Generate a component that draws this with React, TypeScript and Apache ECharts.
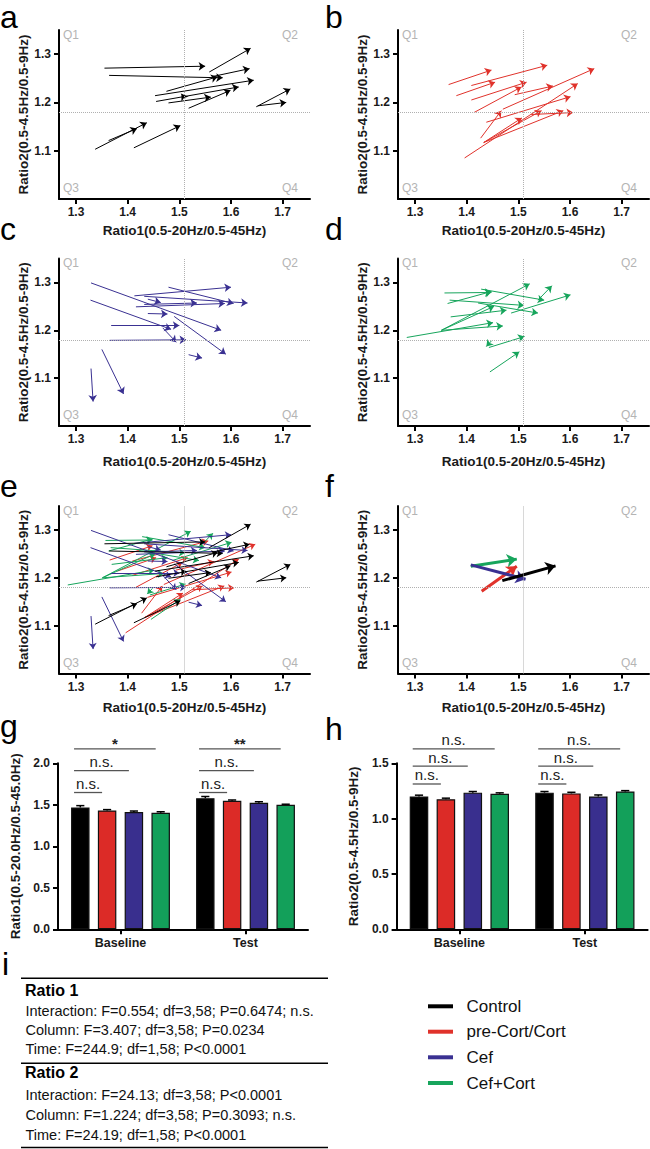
import React, { useEffect, useRef } from "react";
import * as echarts from "echarts";

const FONT = "'Liberation Sans', Arial, Helvetica, sans-serif";

// ---------------- data ----------------
const groupNames = ["Control", "pre-Cort/Cort", "Cef", "Cef+Cort"];
const arrowColors = ["#000000", "#e0322b", "#3a3192", "#17a55c"];
const barColors = ["#000000", "#dc2b27", "#392f8e", "#13a05a"];

// arrows: [ratio1 start, ratio2 start, ratio1 end, ratio2 end]
const arrowsControl = [
  [1.355, 1.271, 1.55, 1.275],
  [1.364, 1.256, 1.584, 1.251],
  [1.558, 1.263, 1.638, 1.312],
  [1.475, 1.223, 1.574, 1.253],
  [1.566, 1.254, 1.636, 1.27],
  [1.453, 1.214, 1.644, 1.246],
  [1.455, 1.202, 1.615, 1.232],
  [1.518, 1.188, 1.599, 1.225],
  [1.479, 1.199, 1.561, 1.211],
  [1.511, 1.207, 1.504, 1.218],
  [1.649, 1.191, 1.715, 1.228],
  [1.652, 1.193, 1.707, 1.2],
  [1.337, 1.103, 1.437, 1.158],
  [1.363, 1.121, 1.418, 1.146],
  [1.412, 1.106, 1.502, 1.152],
];
const arrowsPreCort = [
  [1.365, 1.237, 1.448, 1.267],
  [1.409, 1.235, 1.556, 1.277],
  [1.38, 1.214, 1.455, 1.242],
  [1.409, 1.205, 1.516, 1.242],
  [1.414, 1.179, 1.506, 1.232],
  [1.493, 1.216, 1.567, 1.234],
  [1.47, 1.186, 1.647, 1.27],
  [1.438, 1.159, 1.601, 1.212],
  [1.427, 1.126, 1.467, 1.183],
  [1.396, 1.085, 1.615, 1.239],
  [1.433, 1.117, 1.507, 1.168],
  [1.433, 1.117, 1.545, 1.183],
  [1.433, 1.117, 1.587, 1.183],
  [1.525, 1.175, 1.606, 1.179],
];
const arrowsCef = [
  [1.329, 1.299, 1.581, 1.2],
  [1.328, 1.263, 1.484, 1.202],
  [1.413, 1.272, 1.6, 1.29],
  [1.479, 1.29, 1.605, 1.256],
  [1.432, 1.271, 1.632, 1.257],
  [1.439, 1.265, 1.464, 1.258],
  [1.416, 1.249, 1.588, 1.256],
  [1.432, 1.254, 1.534, 1.257],
  [1.439, 1.235, 1.477, 1.234],
  [1.368, 1.21, 1.5, 1.21],
  [1.365, 1.179, 1.513, 1.18],
  [1.468, 1.205, 1.494, 1.175],
  [1.49, 1.229, 1.59, 1.15],
  [1.518, 1.149, 1.544, 1.142],
  [1.35, 1.16, 1.392, 1.067],
  [1.329, 1.12, 1.333, 1.051],
];
const arrowsCefCort = [
  [1.357, 1.278, 1.448, 1.279],
  [1.363, 1.256, 1.448, 1.281],
  [1.428, 1.286, 1.55, 1.263],
  [1.367, 1.263, 1.511, 1.252],
  [1.422, 1.257, 1.538, 1.236],
  [1.369, 1.228, 1.477, 1.242],
  [1.351, 1.2, 1.522, 1.297],
  [1.351, 1.2, 1.453, 1.25],
  [1.284, 1.185, 1.451, 1.216],
  [1.351, 1.2, 1.47, 1.209],
  [1.486, 1.236, 1.601, 1.274],
  [1.538, 1.263, 1.565, 1.293],
  [1.448, 1.178, 1.438, 1.166],
  [1.443, 1.164, 1.512, 1.187],
  [1.445, 1.113, 1.502, 1.155],
];
// group mean arrows (panel f), order: Control, pre-Cort/Cort, Cef, Cef+Cort
const meanArrows = [
  [1.469, 1.194, 1.572, 1.225],
  [1.429, 1.172, 1.497, 1.224],
  [1.408, 1.227, 1.514, 1.197],
  [1.408, 1.224, 1.497, 1.239],
];

const ratio1Ticks = [1.3, 1.4, 1.5, 1.6, 1.7];
const ratio2Ticks = [1.1, 1.2, 1.3];
const quadrantX = 1.509;
const quadrantY = 1.175;
const quadrantLabels = ["Q1", "Q2", "Q3", "Q4"];

const phases = ["Baseline", "Test"];
// [group][phase]
const ratio1Mean = [
  [1.468, 1.58],
  [1.432, 1.548],
  [1.413, 1.524],
  [1.404, 1.5],
];
const ratio1Err = [
  [0.022, 0.02],
  [0.01, 0.01],
  [0.012, 0.013],
  [0.012, 0.007],
];
const ratio2Mean = [
  [1.2, 1.235],
  [1.175, 1.228],
  [1.235, 1.2],
  [1.225, 1.245],
];
const ratio2Err = [
  [0.012, 0.01],
  [0.01, 0.01],
  [0.01, 0.014],
  [0.008, 0.008],
];
const ratio1BarTicks = { max: 2.0, interval: 0.5 };
const ratio2BarTicks = { max: 1.5, interval: 0.5 };
// significance: [phase, compared group, bracket height, label]
const ratio1Sig: [number, number, number, string][] = [
  [0, 3, 2.175, "*"],
  [0, 2, 1.911, "n.s."],
  [0, 1, 1.648, "n.s."],
  [1, 3, 2.175, "**"],
  [1, 2, 1.911, "n.s."],
  [1, 1, 1.648, "n.s."],
];
const ratio2Sig: [number, number, number, string][] = [
  [0, 3, 1.63, "n.s."],
  [0, 2, 1.475, "n.s."],
  [0, 1, 1.313, "n.s."],
  [1, 3, 1.63, "n.s."],
  [1, 2, 1.475, "n.s."],
  [1, 1, 1.313, "n.s."],
];

const statsTitles = ["Ratio 1", "Ratio 2"];
const statsRows = [
  [
    "Interaction: F=0.554; df=3,58; P=0.6474; n.s.",
    "Column: F=3.407; df=3,58; P=0.0234",
    "Time: F=244.9; df=1,58; P<0.0001",
  ],
  [
    "Interaction: F=24.13; df=3,58; P<0.0001",
    "Column: F=1.224; df=3,58; P=0.3093; n.s.",
    "Time: F=24.19; df=1,58; P<0.0001",
  ],
];

// ---------------- layout ----------------
const SC_W = 251;
const LETTER_SIZE = 32;
const scatterPanels = [
  { letter: "a", left: 59, top: 30, height: 169, nameGap: 24, letterX: 0, letterY: 16.5 },
  { letter: "b", left: 398, top: 30, height: 169, nameGap: 24, letterX: 325, letterY: 16.5 },
  { letter: "c", left: 59, top: 258.5, height: 167.5, nameGap: 28, letterX: 0, letterY: 229 },
  { letter: "d", left: 398, top: 258.5, height: 167.5, nameGap: 28, letterX: 325, letterY: 229 },
  { letter: "e", left: 59, top: 506, height: 167.5, nameGap: 27, letterX: 0, letterY: 486 },
  { letter: "f", left: 398, top: 506, height: 167.5, nameGap: 27, letterX: 325, letterY: 486 },
];
const barPanels = [
  { letter: "g", left: 58, top: 763.3, width: 250, height: 166, letterX: 0, letterY: 726 },
  { letter: "h", left: 396.6, top: 763.3, width: 251, height: 166, letterX: 325, letterY: 729 },
];
const BAR_CAT_GAP = 0.209;
const BAR_GAP = 0.45;
const BAR_W = (1 - BAR_CAT_GAP) / (4 + 3 * BAR_GAP);
const BAR_OFFSETS = [0, 1, 2, 3].map(
  (i) => -(1 - BAR_CAT_GAP) / 2 + BAR_W / 2 + i * BAR_W * (1 + BAR_GAP)
);

function txt(text: string, x: number, y: number, opts: any = {}) {
  const align = opts.align || "left";
  return {
    type: "text",
    x,
    y,
    silent: true,
    z: 10,
    style: {
      text,
      fill: opts.fill || "#111",
      fontSize: opts.fontSize || 14,
      fontWeight: opts.fontWeight || "normal",
      fontFamily: FONT,
      align,
      verticalAlign: "middle",
      textAlign: align,
      textVerticalAlign: "middle",
    },
  };
}

function buildOption() {
  const grid: any[] = [];
  const xAxis: any[] = [];
  const yAxis: any[] = [];
  const series: any[] = [];
  const graphic: any[] = [];
  const axisText = { color: "#1a1a1a", fontWeight: "bold", fontFamily: FONT };
  const axisLine = { show: true, onZero: false, lineStyle: { color: "#000", width: 2 } };
  const tickStyle = { color: "#000", width: 2 };
  const groupArrows = [arrowsControl, arrowsPreCort, arrowsCef, arrowsCefCort];

  const arrowSeries = (arr: number[][], color: string, gi: number, width: number, size: number, name: string) => ({
    type: "lines",
    name,
    coordinateSystem: "cartesian2d",
    xAxisIndex: gi,
    yAxisIndex: gi,
    silent: true,
    z: 4,
    symbol: ["none", "arrow"],
    symbolSize: size,
    lineStyle: { color, width, opacity: 1, curveness: 0 },
    data: arr.map((d) => ({ coords: [[d[0], d[1]], [d[2], d[3]]] })),
  });

  scatterPanels.forEach((p, gi) => {
    grid.push({ left: p.left, top: p.top, width: SC_W, height: p.height, containLabel: false, outerBoundsMode: "none" });
    xAxis.push({
      gridIndex: gi,
      type: "value",
      min: 1.267,
      max: 1.753,
      name: "Ratio1(0.5-20Hz/0.5-45Hz)",
      nameLocation: "middle",
      nameGap: p.nameGap,
      nameTextStyle: { ...axisText, fontSize: 13.5 },
      axisLine,
      axisTick: { show: true, customValues: ratio1Ticks, length: 5, lineStyle: tickStyle },
      axisLabel: { customValues: ratio1Ticks, formatter: (v: number) => v.toFixed(1), ...axisText, fontSize: 12, margin: 7 },
      splitLine: { show: false },
    });
    yAxis.push({
      gridIndex: gi,
      type: "value",
      min: 1.0,
      max: 1.35,
      name: "Ratio2(0.5-4.5Hz/0.5-9Hz)",
      nameLocation: "middle",
      nameGap: 23,
      nameRotate: 90,
      nameTextStyle: { ...axisText, fontSize: 13.5 },
      axisLine,
      axisTick: { show: true, customValues: ratio2Ticks, length: 5, lineStyle: tickStyle },
      axisLabel: { customValues: ratio2Ticks, formatter: (v: number) => v.toFixed(1), ...axisText, fontSize: 12, margin: 8 },
      splitLine: { show: false },
    });
    series.push({
      type: "line",
      xAxisIndex: gi,
      yAxisIndex: gi,
      data: [],
      silent: true,
      markLine: {
        silent: true,
        symbol: ["none", "none"],
        label: { show: false },
        lineStyle: { type: "dotted", color: "#b0b0b0", width: 1 },
        data: [{ xAxis: quadrantX }, { yAxis: quadrantY }],
      },
    });
    if (gi < 4) {
      series.push(arrowSeries(groupArrows[gi], arrowColors[gi], gi, 1, 6.5, groupNames[gi]));
    } else if (gi === 4) {
      [1, 3, 2, 0].forEach((k) => series.push(arrowSeries(groupArrows[k], arrowColors[k], gi, 1, 6, groupNames[k])));
    } else {
      [1, 3, 2, 0].forEach((k) => series.push(arrowSeries([meanArrows[k]], arrowColors[k], gi, 3, 10, groupNames[k])));
    }
    const right = p.left + SC_W - 12;
    const qTop = p.top + 4.5;
    const qBot = p.top + p.height - 11;
    const qs = { fill: "#b4b4b4", fontSize: 12 };
    graphic.push(txt(quadrantLabels[0], p.left + 4, qTop, qs));
    graphic.push(txt(quadrantLabels[1], right, qTop, { ...qs, align: "right" }));
    graphic.push(txt(quadrantLabels[2], p.left + 4, qBot, qs));
    graphic.push(txt(quadrantLabels[3], right, qBot, { ...qs, align: "right" }));
    graphic.push(txt(p.letter, p.letterX, p.letterY, { fontSize: LETTER_SIZE, fill: "#000" }));
  });

  const barSets = [
    { mean: ratio1Mean, err: ratio1Err, ticks: ratio1BarTicks, sig: ratio1Sig, name: "Ratio1(0.5-20.0Hz/0.5-45.0Hz)" },
    { mean: ratio2Mean, err: ratio2Err, ticks: ratio2BarTicks, sig: ratio2Sig, name: "Ratio2(0.5-4.5Hz/0.5-9Hz)" },
  ];
  barPanels.forEach((p, bi) => {
    const gi = 6 + bi;
    const set = barSets[bi];
    grid.push({ left: p.left, top: p.top, width: p.width, height: p.height, containLabel: false, outerBoundsMode: "none" });
    xAxis.push({
      gridIndex: gi,
      type: "category",
      data: phases,
      axisLine,
      axisTick: { show: true, alignWithLabel: true, length: 5, lineStyle: tickStyle },
      axisLabel: { ...axisText, fontSize: 12.5, margin: 7 },
      splitLine: { show: false },
    });
    yAxis.push({
      gridIndex: gi,
      type: "value",
      min: 0,
      max: set.ticks.max,
      interval: set.ticks.interval,
      name: set.name,
      nameLocation: "middle",
      nameGap: 36,
      nameRotate: 90,
      nameTextStyle: { ...axisText, fontSize: 13.5 },
      axisLine,
      axisTick: { show: true, length: 5, lineStyle: tickStyle },
      axisLabel: { formatter: (v: number) => v.toFixed(1), ...axisText, fontSize: 12, margin: 8 },
      splitLine: { show: false },
    });
    set.mean.forEach((vals, k) => {
      series.push({
        type: "bar",
        name: groupNames[k],
        xAxisIndex: gi,
        yAxisIndex: gi,
        data: vals,
        barGap: Math.round(BAR_GAP * 100) + "%",
        barCategoryGap: (BAR_CAT_GAP * 100).toFixed(1) + "%",
        itemStyle: { color: barColors[k], borderColor: "#111", borderWidth: 1.2 },
        silent: true,
        z: 2,
      });
    });
    const errData: number[][] = [];
    set.mean.forEach((vals, k) => vals.forEach((v, c) => errData.push([c, v, set.err[k][c], k])));
    series.push({
      type: "custom",
      xAxisIndex: gi,
      yAxisIndex: gi,
      clip: false,
      silent: true,
      z: 5,
      data: errData,
      renderItem: (params: any, api: any) => {
        const c = api.value(0);
        const m = api.value(1);
        const e = api.value(2);
        const k = api.value(3);
        const catW = api.size([1, 0])[0];
        const cx = api.coord([c, 0])[0] + BAR_OFFSETS[k] * catW;
        const yb = api.coord([c, m])[1];
        const yt = api.coord([c, m + e])[1];
        const cap = BAR_W * catW * 0.22;
        const st = { stroke: "#000", lineWidth: 1.5 };
        return {
          type: "group",
          children: [
            { type: "line", shape: { x1: cx, y1: yb, x2: cx, y2: yt }, style: st },
            { type: "line", shape: { x1: cx - cap, y1: yt, x2: cx + cap, y2: yt }, style: st },
          ],
        };
      },
    });
    const sig = set.sig;
    series.push({
      type: "custom",
      xAxisIndex: gi,
      yAxisIndex: gi,
      clip: false,
      silent: true,
      z: 5,
      data: sig.map((s) => [s[0], s[1], s[2]]),
      renderItem: (params: any, api: any) => {
        const c = api.value(0);
        const k = api.value(1);
        const h = api.value(2);
        const label = sig[params.dataIndex][3];
        const catW = api.size([1, 0])[0];
        const c0 = api.coord([c, 0])[0];
        const x1 = c0 + (BAR_OFFSETS[0] - 0.05) * catW;
        const x2 = c0 + (BAR_OFFSETS[k] - 0.04) * catW;
        const y = api.coord([c, h])[1];
        const isStar = label.charAt(0) === "*";
        return {
          type: "group",
          children: [
            { type: "line", shape: { x1, y1: y, x2, y2: y }, style: { stroke: "#555", lineWidth: 1.3 } },
            {
              type: "text",
              x: (x1 + x2) / 2,
              y: y - (isStar ? 5 : 9),
              style: {
                text: label,
                fill: "#222",
                fontSize: 15,
                fontWeight: isStar ? "bold" : "normal",
                fontFamily: FONT,
                align: "center",
                verticalAlign: "middle",
              },
            },
          ],
        };
      },
    });
    graphic.push(txt(p.letter, p.letterX, p.letterY, { fontSize: LETTER_SIZE, fill: "#000" }));
  });

  // panel i: statistics table
  graphic.push(txt("i", 2, 964, { fontSize: LETTER_SIZE, fill: "#000" }));
  const tableX1 = 21;
  const tableX2 = 328;
  const ruleYs = [978.3, 1063.3, 1147.5];
  ruleYs.forEach((y) =>
    graphic.push({ type: "line", silent: true, shape: { x1: tableX1, y1: y, x2: tableX2, y2: y }, style: { stroke: "#000", lineWidth: 1.5 } })
  );
  const titleYs = [990.7, 1072.3];
  const rowYs = [
    [1010.7, 1029.5, 1048.5],
    [1095, 1114.7, 1134.7],
  ];
  statsTitles.forEach((t, s) => {
    graphic.push(txt(t, 25, titleYs[s], { fontSize: 16, fontWeight: "bold", fill: "#000" }));
    statsRows[s].forEach((r, j) => graphic.push(txt(r, 25.5, rowYs[s][j], { fontSize: 14.5, fill: "#111" })));
  });

  // legend
  const legendYs = [1006.3, 1031.7, 1057.3, 1083];
  groupNames.forEach((n, k) => {
    graphic.push({
      type: "line",
      silent: true,
      shape: { x1: 428, y1: legendYs[k], x2: 453, y2: legendYs[k] },
      style: { stroke: arrowColors[k], lineWidth: 4 },
    });
    graphic.push(txt(n, 466.5, legendYs[k], { fontSize: 17, fill: "#111" }));
  });

  return {
    animation: false,
    backgroundColor: "#ffffff",
    textStyle: { fontFamily: FONT },
    grid,
    xAxis,
    yAxis,
    series,
    graphic,
  };
}

export default function App() {
  const ref = useRef<HTMLDivElement>(null);
  useEffect(() => {
    const chart = echarts.init(ref.current as HTMLDivElement, null, { renderer: "svg" });
    chart.setOption(buildOption() as any);
    return () => chart.dispose();
  }, []);
  return (
    <div
      ref={ref}
      style={{ position: "absolute", left: 0, top: 0, width: 650, height: 1149, background: "#fff" }}
    />
  );
}
